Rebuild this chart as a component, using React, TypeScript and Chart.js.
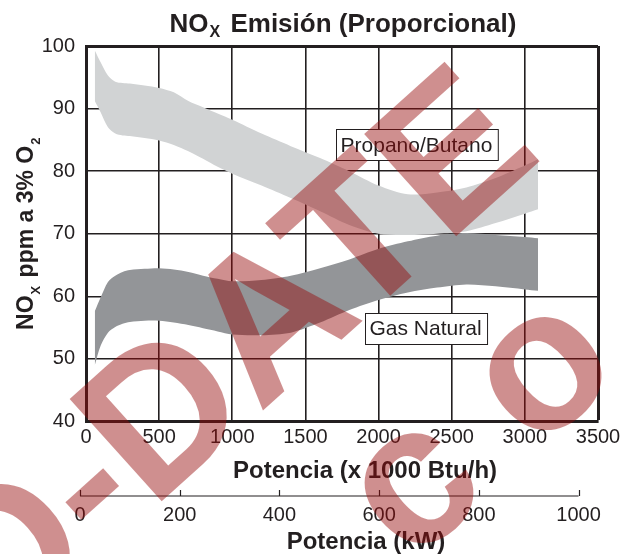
import { useEffect, useRef } from "react";
import { Chart, registerables } from "chart.js";

Chart.register(...registerables);

// ---- data ----
const powerKbtu = [60, 100, 150, 200, 250, 300, 400, 500, 600, 700, 800, 900, 1000, 1200, 1400, 1600, 1800, 2000, 2200, 2400, 2600, 2800, 3000, 3090];
const propaneUpper = [99.3, 97.4, 95.3, 94.3, 94.1, 94.0, 93.7, 93.3, 92.6, 91.2, 90.2, 89.2, 88.2, 86.0, 84.0, 82.1, 80.0, 77.7, 76.3, 76.6, 77.4, 78.9, 80.9, 81.9];
const propaneLower = [91.2, 89.4, 87.0, 86.0, 85.7, 85.6, 85.3, 84.9, 84.2, 83.2, 82.0, 80.7, 79.6, 77.7, 75.7, 73.6, 71.4, 70.0, 69.8, 70.0, 70.4, 71.7, 73.2, 73.9];
const gasUpper = [57.6, 59.8, 62.3, 63.3, 63.9, 64.2, 64.4, 64.5, 64.3, 63.9, 63.3, 62.8, 62.4, 62.6, 63.3, 64.5, 65.9, 67.6, 68.8, 69.7, 70.1, 69.8, 69.5, 69.3];
const gasLower = [49.0, 52.1, 54.2, 55.1, 55.6, 55.9, 56.1, 56.1, 55.8, 55.4, 54.9, 54.4, 53.9, 53.8, 54.2, 55.8, 57.8, 59.4, 60.6, 61.4, 61.9, 61.6, 61.1, 60.9];

const btuTicks = [0, 500, 1000, 1500, 2000, 2500, 3000, 3500];
const kwTicks = [0, 200, 400, 600, 800, 1000];
const noxTicks = [40, 50, 60, 70, 80, 90, 100];

const seriesNames = ["Propano/Butano", "Gas Natural"];

// ---- styles ----
const FONT = "'Liberation Sans', Arial, Helvetica, sans-serif";
const INK = "#231f20";
const LIGHT = "#d1d3d4";
const DARK = "#939598";
const CLEAR = "rgba(0,0,0,0)";

type Part = { text: string; size: number; dy?: number; dx?: number };

function drawRich(ctx: CanvasRenderingContext2D, parts: Part[], cx: number, baseY: number) {
  let total = 0;
  const widths: number[] = [];
  for (const p of parts) {
    ctx.font = `bold ${p.size}px ${FONT}`;
    const w = ctx.measureText(p.text).width + (p.dx || 0);
    widths.push(w);
    total += w;
  }
  let x = cx - total / 2;
  parts.forEach((p, i) => {
    ctx.font = `bold ${p.size}px ${FONT}`;
    ctx.fillText(p.text, x + (p.dx || 0), baseY + (p.dy || 0));
    x += widths[i];
  });
}

function drawLabelBox(ctx: CanvasRenderingContext2D, text: string, cx: number, cy: number) {
  ctx.save();
  ctx.font = `21px ${FONT}`;
  const w = ctx.measureText(text).width + 10;
  const h = 31;
  const x0 = Math.round(cx - w / 2) + 0.5;
  const y0 = Math.round(cy - h / 2) + 0.5;
  ctx.fillStyle = "#ffffff";
  ctx.fillRect(x0, y0, w, h);
  ctx.strokeStyle = INK;
  ctx.lineWidth = 1;
  ctx.strokeRect(x0, y0, w, h);
  ctx.fillStyle = INK;
  ctx.textAlign = "center";
  ctx.textBaseline = "middle";
  ctx.fillText(text, cx, cy + 1);
  ctx.restore();
}

function drawSpaced(ctx: CanvasRenderingContext2D, text: string, x: number, y: number, gaps: number[]) {
  let a = x;
  Array.from(text).forEach((ch, i) => {
    ctx.fillText(ch, a, y);
    a += ctx.measureText(ch).width + (gaps[i] || 0);
  });
}

const decorPlugin = {
  id: "decor",
  afterDatasetsDraw(chart: any) {
    const { ctx } = chart;
    const x = chart.scales.x;
    const y = chart.scales.y;
    drawLabelBox(ctx, seriesNames[0], x.getPixelForValue(2259), y.getPixelForValue(84.2));
    drawLabelBox(ctx, seriesNames[1], x.getPixelForValue(2321), y.getPixelForValue(54.9));
  },
  afterDraw(chart: any) {
    const { ctx } = chart;
    const x = chart.scales.x;
    const x2 = chart.scales.x2;
    ctx.save();
    // kW axis: base line and upward tick marks
    const ly = x2.top + 6;
    ctx.strokeStyle = INK;
    ctx.lineWidth = 1.2;
    ctx.beginPath();
    ctx.moveTo(x2.getPixelForValue(kwTicks[0]), ly);
    ctx.lineTo(x2.getPixelForValue(kwTicks[kwTicks.length - 1]), ly);
    for (const v of kwTicks) {
      const px = Math.round(x2.getPixelForValue(v)) + 0.5;
      ctx.moveTo(px, ly);
      ctx.lineTo(px, ly - 6);
    }
    ctx.stroke();

    ctx.fillStyle = INK;
    ctx.textAlign = "left";
    ctx.textBaseline = "alphabetic";
    // main title
    drawRich(
      ctx,
      [
        { text: "NO", size: 26 },
        { text: "X", size: 16, dy: 5, dx: 1 },
        { text: " Emisión (Proporcional)", size: 26, dx: 3 },
      ],
      343,
      32
    );
    // x axis titles
    drawRich(ctx, [{ text: "Potencia (x 1000 Btu/h)", size: 24 }], 365, x.top + 56);
    drawRich(ctx, [{ text: "Potencia (kW)", size: 24 }], 366, 549);
    // y axis title
    ctx.save();
    ctx.translate(33, (chart.chartArea.top + chart.chartArea.bottom) / 2);
    ctx.rotate(-Math.PI / 2);
    drawRich(
      ctx,
      [
        { text: "NO", size: 23 },
        { text: "X", size: 13, dy: 7, dx: 1 },
        { text: " ppm a 3% O", size: 23, dx: 2 },
        { text: "2", size: 13, dy: 7, dx: 1 },
      ],
      0,
      0
    );
    ctx.restore();

    // watermark
    ctx.save();
    ctx.translate(-5, 651.5);
    ctx.rotate((-42 * Math.PI) / 180);
    ctx.font = `bold 200px ${FONT}`;
    ctx.fillStyle = "rgba(150,10,10,0.46)";
    ctx.textAlign = "left";
    ctx.textBaseline = "alphabetic";
    ctx.fillText("D-DATE", 0, 0);
    drawSpaced(ctx, ".com", 255, 215, [56, 56, 120]);
    ctx.restore();

    ctx.restore();
  },
};

export default function App() {
  const canvasRef = useRef<HTMLCanvasElement | null>(null);

  useEffect(() => {
    const canvas = canvasRef.current;
    if (!canvas) return;
    const pts = (ys: number[]) => powerKbtu.map((v, i) => ({ x: v, y: ys[i] }));
    const common = {
      borderColor: CLEAR,
      borderWidth: 0,
      pointRadius: 0,
      pointHoverRadius: 0,
      tension: 0.3,
      xAxisID: "x",
      yAxisID: "y",
    };
    const tickFont = { family: FONT, size: 20 };
    const plain = (v: any) => String(v);
    const chart = new Chart(canvas, {
      type: "line",
      data: {
        datasets: [
          { ...common, label: seriesNames[0], data: pts(propaneUpper), fill: "+1", backgroundColor: LIGHT },
          { ...common, label: seriesNames[0] + " min", data: pts(propaneLower), fill: false, backgroundColor: LIGHT },
          { ...common, label: seriesNames[1], data: pts(gasUpper), fill: "+1", backgroundColor: DARK },
          { ...common, label: seriesNames[1] + " min", data: pts(gasLower), fill: false, backgroundColor: DARK },
        ],
      },
      options: {
        animation: false,
        responsive: false,
        devicePixelRatio: 1,
        layout: { padding: { top: 46, left: 0, right: 37, bottom: 0 } },
        plugins: {
          legend: { display: false },
          title: { display: false },
          tooltip: { enabled: false },
        },
        scales: {
          x: {
            type: "linear",
            position: "bottom",
            min: 0,
            max: 3500,
            afterBuildTicks: (s: any) => {
              s.ticks = btuTicks.map((v) => ({ value: v }));
            },
            afterFit: (s: any) => {
              s.height = 68.5;
            },
            ticks: { font: tickFont, color: INK, padding: 4, maxRotation: 0, autoSkip: false, callback: plain },
            grid: {
              color: INK,
              lineWidth: (c: any) => (c.tick && c.tick.value === 3500 ? 3 : 1.6),
              drawTicks: false,
            },
            border: { display: true, color: INK, width: 3 },
          },
          x2: {
            type: "linear",
            axis: "x",
            position: "bottom",
            min: 12,
            max: 1039,
            afterBuildTicks: (s: any) => {
              s.ticks = kwTicks.map((v) => ({ value: v }));
            },
            afterFit: (s: any) => {
              s.height = 64;
            },
            ticks: { font: tickFont, color: INK, padding: 5, maxRotation: 0, autoSkip: false, callback: plain },
            grid: { display: false },
            border: { display: false },
          },
          y: {
            type: "linear",
            min: 40,
            max: 100,
            afterBuildTicks: (s: any) => {
              s.ticks = noxTicks.map((v) => ({ value: v }));
            },
            afterFit: (s: any) => {
              s.width = 86;
            },
            ticks: { font: tickFont, color: INK, padding: 11, callback: plain },
            grid: {
              color: INK,
              lineWidth: (c: any) => (c.tick && c.tick.value === 100 ? 3 : 1.6),
              drawTicks: false,
            },
            border: { display: true, color: INK, width: 3 },
          },
        },
      } as any,
      plugins: [decorPlugin],
    });
    return () => chart.destroy();
  }, []);

  return (
    <div style={{ position: "absolute", left: 0, top: 0, width: 635, height: 554, background: "#fff" }}>
      <canvas ref={canvasRef} width={635} height={554} style={{ display: "block" }} />
    </div>
  );
}
